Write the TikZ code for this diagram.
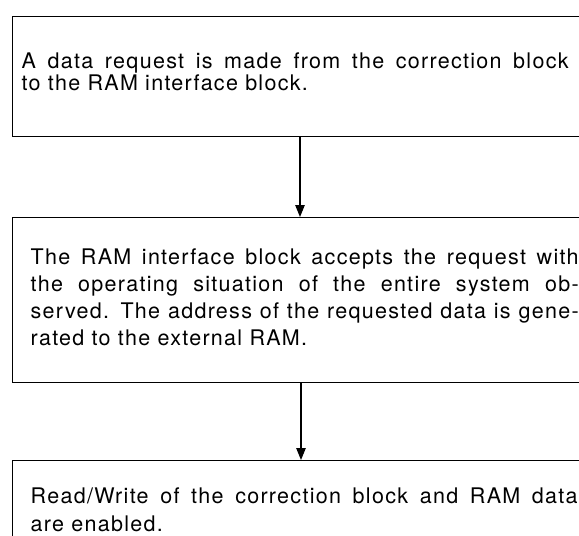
\documentclass[tikz,border=0pt]{standalone}
\usepackage{fontspec}
\setmainfont{TeX Gyre Heros}[LetterSpace=6]
\usetikzlibrary{positioning,arrows.meta}
\tolerance=10000
\hbadness=10000

% justified block text, with room on the right so the frame runs off the page
\newcommand{\blocktext}[3]{\parbox{#1}{\fontsize{21.5}{#2}\selectfont #3}\hspace*{24pt}}

\begin{document}
\begin{tikzpicture}[
    x=1pt, y=-1pt,
    stepbox/.style={draw, line width=1.4pt, anchor=north west, inner ysep=0pt, align=left},
    arr/.style={-{Triangle[length=12pt,width=9.5pt]}, line width=1.1pt},
]
    \useasboundingbox (0,0) rectangle (579,536);

    % --- the three steps ---
    \node[stepbox, inner xsep=9pt, minimum height=120pt] (req) at (12,16)
        {\blocktext{547pt}{22pt}{A data request is made from the correction block\linebreak to the RAM interface block.\par\vspace{9pt}}};
    \node[stepbox, inner xsep=18pt, minimum height=165pt] (acc) at (12,217)
        {\blocktext{548pt}{27pt}{The RAM interface block accepts the request with\linebreak the operating situation of the entire system ob-\linebreak served. The address of the requested data is gene-\linebreak rated to the external RAM.\par\vspace{6pt}}};
    \node[stepbox, inner xsep=18pt, minimum height=98pt] (rw) at (12,460)
        {\blocktext{547pt}{28pt}{Read/Write of the correction block and RAM data\linebreak are enabled.}};

    % --- flow ---
    \coordinate (mid) at (300,0);
    \draw[arr] (req.south -| mid) -- (acc.north -| mid);
    \draw[arr] ([xshift=1pt]acc.south -| mid) -- ([xshift=1pt]rw.north -| mid);
\end{tikzpicture}
\end{document}
